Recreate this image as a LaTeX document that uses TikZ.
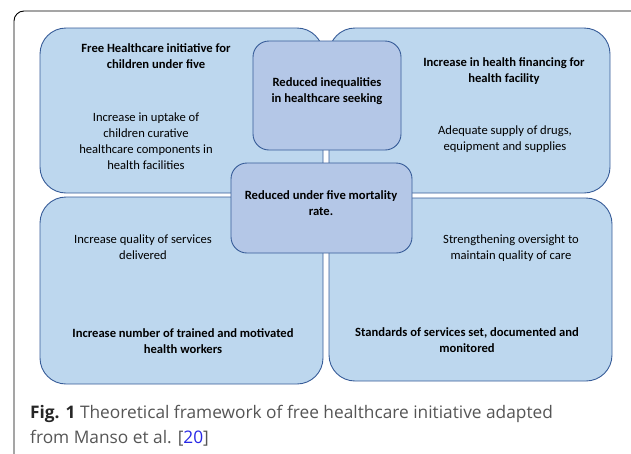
\documentclass[tikz,border=0pt]{standalone}
\usepackage{fontspec}
\setmainfont{Carlito}
\newfontfamily\capfont{Open Sans}
\usepackage{tikz}
\usetikzlibrary{positioning}

\definecolor{paneledge}{RGB}{55,92,152}
\definecolor{panelfill}{RGB}{189,215,238}
\definecolor{corefill}{RGB}{180,199,231}
\definecolor{captext}{RGB}{85,85,85}
\definecolor{citeblue}{RGB}{40,40,230}

\tikzset{
  panel/.style={draw=paneledge, fill=panelfill, line width=0.9pt, rounded corners=26pt, inner sep=0pt},
  core/.style={draw=paneledge, fill=corefill, line width=0.9pt, rounded corners=16pt, inner sep=0pt},
  label/.style={align=center, inner sep=0pt, font=\fontsize{12.6}{16}\selectfont},
  boldlabel/.style={label, font=\fontsize{12.6}{16}\selectfont\bfseries},
  capline/.style={anchor=base west, inner sep=0pt, text=captext, font=\capfont\fontsize{17.3}{25}\selectfont}
}

\begin{document}
\begin{tikzpicture}[x=1pt, y=-1pt]
          \useasboundingbox (0,0) rectangle (631,453);

          % frame
          \draw[line width=0.9pt, rounded corners=10pt] (14,455) -- (14,11) -- (631,11);

          % the four panels
          \node[panel, minimum width=283pt, minimum height=165pt] (freecare) at (181.5,110.5) {};
          \node[panel, minimum width=281pt, minimum height=165pt] (financing) at (469.5,110.5) {};
          \node[panel, minimum width=283pt, minimum height=187pt] (quality) at (181.5,290.5) {};
          \node[panel, minimum width=283pt, minimum height=183pt] (standards) at (470.5,289.5) {};

          % centre boxes
          \node[core, minimum width=148pt, minimum height=109pt] (inequal) at (327,95.5) {};
          \node[core, minimum width=181pt, minimum height=90pt] (mortality) at (321.5,208) {};

          % panel texts
          \node[boldlabel] (freecare-t) at (156,56) {Free Healthcare initiative for\\children under five};
          \node[label] (uptake) at (146,141.5) {Increase in uptake of\\children curative\\healthcare components in\\health facilities};

          \node[boldlabel] (inequal-t) at (327,91) {Reduced inequalities\\in healthcare seeking};

          \node[boldlabel] (financing-t) at (504,71.5) {Increase in health financing for\\health facility};
          \node[label] (supply) at (505,139) {Adequate supply of drugs,\\equipment and supplies};

          \node[boldlabel] (mortality-t) at (321,203.5) {Reduced under five mortality\\rate.};

          \node[label] (services) at (143,247) {Increase quality of services\\delivered};
          \node[boldlabel] (workers) at (183,341) {Increase number of trained and motivated\\health workers};

          \node[label] (oversight) at (511,248) {Strengthening oversight to\\maintain quality of care};
          \node[boldlabel] (standards-t) at (467,340) {Standards of services set, documented and\\monitored};

          % caption
          \node[capline] (caption1) at (30,418)
            {{\bfseries\color{black!85}Fig. 1} Theoretical framework of free healthcare initiative adapted};
          \node[capline] (caption2) at (30,443)
            {from Manso et al. [{\color{citeblue}20}]};
        \end{tikzpicture}
\end{document}
